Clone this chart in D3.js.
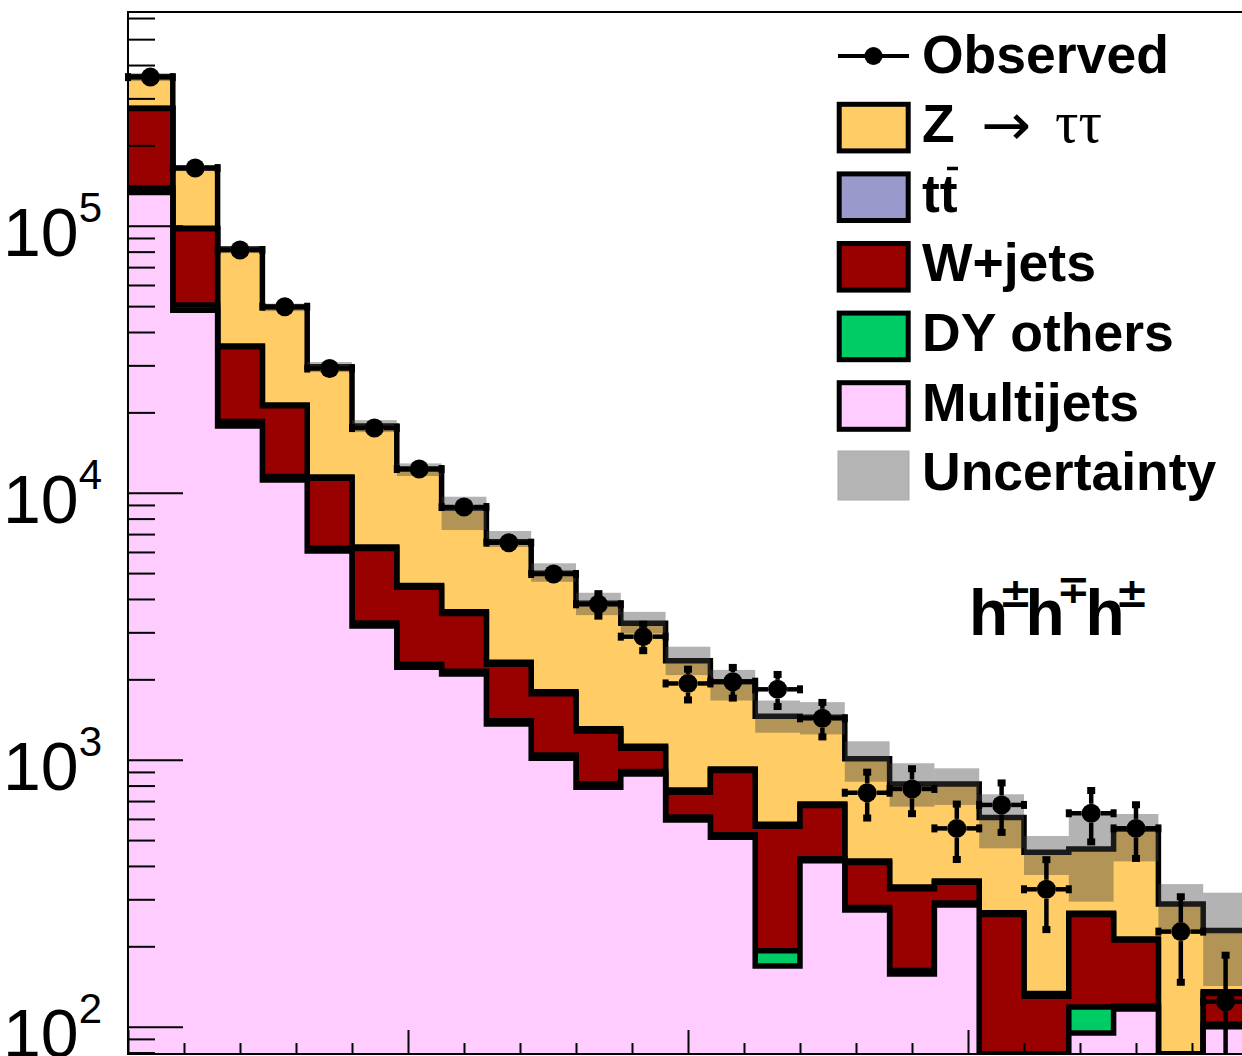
<!DOCTYPE html>
<html><head><meta charset="utf-8">
<script src="https://cdn.jsdelivr.net/npm/d3@7"></script>
<style>html,body{margin:0;padding:0;background:#fff;overflow:hidden}svg{display:block}</style>
</head><body>
<svg id="chart" width="1242" height="1056"></svg>
<script>
// ---------- data ----------
const binLow = [0,4,8,12,16,20,24,28,32,36,40,44,48,52,56,60,64,68,72,76,80,84,88,92,96];
const binWidth = 4;
const multijets = [133100,48300,17770,11160,6050,3170,2220,2094,1360,1012,788,884,595,512,168.8,418,273.6,157.5,285.6,60,55,94.7,116.5,50,100];
const dyOthers  = [5500,2200,700,350,150,80,60,50,40,30,25,20,15,12,23.8,8,6,5,5,3,3,23.8,3,2,2];
const wJets     = [136300,47050,16780,9650,5140,2930,2150,1386,876,725,469,199,145,387,371,248,132,166,57,200,72,144.5,91.5,16,31];
const ttbar     = [400,250,180,140,110,80,60,50,40,30,25,20,15,12,10,8,6,5,4,4,3,3,2,2,2];
const zTauTau   = [86100,66700,46400,28300,18180,11510,7780,5180,4234,3193,2546,2120,1580,1036,881,759,591,477,459,341,317,197,337,218,94];
const observed    = [360400,164500,81100,49740,29190,17470,12270,8840,6500,4960,3820,2890,1930,1960,1835,1429,752,777,553,677,327,630,553,227,124];
const observedErr = [600,410,290,230,170,135,110,95,80,70,385,340,263,266,260,217,150,152,132,145,97,140,128,81,62];
const uncUp   = [373100,168800,83900,51100,30870,18710,12880,9660,7190,5440,4220,3580,2650,2170,1666,1643,1172,970,928.5,742,518,626,626,342,317.6];
const uncDown = [348300,160300,79000,47900,28310,16870,11550,7250,6260,4640,3480,2970,2075,1666,1262,1244,827,667,676.7,465.8,370,294,416,230,142];
const yMajorTicks = [100,1000,10000,100000];
const yMinorTicks = [80,90,200,300,400,500,600,700,800,900,2000,3000,4000,5000,6000,7000,8000,9000,
  20000,30000,40000,50000,60000,70000,80000,90000,200000,300000,400000,500000,600000];
const xTicks = [0,5,10,15,20,25,30,35,40,45,50,55,60,65,70,75,80,85,90,95,100];
const xMajor = [0,25,50,75,100];

const keys = ["multijets","dy","wjets","ttbar","ztt"];
const colors = {ztt:"#ffcc66", ttbar:"#9999cc", wjets:"#990000", dy:"#00cc66", multijets:"#ffccff"};
const legendItems = [
  {key:"ztt", label:"Z"}, {key:"ttbar", label:"tt"}, {key:"wjets", label:"W+jets"},
  {key:"dy", label:"DY others"}, {key:"multijets", label:"Multijets"}
];

// ---------- layout ----------
const L = 128, R = 1248, T = 12, B = 1054;
const svg = d3.select("#chart");
const x = d3.scaleLinear().domain([0,100]).range([L,R]);
const y = d3.scaleLog().domain([79, 6.32e5]).range([B,T]).clamp(true);
const Y = v => y(Math.max(v, 1));

svg.append("defs").append("clipPath").attr("id","plot")
  .append("rect").attr("x",L).attr("y",T).attr("width",R-L).attr("height",B-T);

const table = binLow.map((lo,i)=>({lo, multijets:multijets[i], dy:dyOthers[i], wjets:wJets[i], ttbar:ttbar[i], ztt:zTauTau[i]}));
const series = d3.stack().keys(keys)(table);

const gStack = svg.append("g").attr("clip-path","url(#plot)");
function stepPath(tops, closed){
  let p = "";
  tops.forEach((v,i)=>{
    const x0 = x(binLow[i]), x1 = x(binLow[i]+binWidth);
    if(i===0) p += closed ? `M${x0},${B+10}V${Y(v)}` : `M${x0},${Y(v)}`;
    else p += `V${Y(v)}`;
    p += `H${x1}`;
  });
  if(closed) p += `V${B+10}Z`;
  return p;
}
for(let k = series.length-1; k>=0; k--){
  const s = series[k];
  const tops = s.map(d=>d[1]);
  gStack.append("path").attr("d", stepPath(tops,true)).attr("fill", colors[s.key]).attr("stroke","none");
  gStack.append("path").attr("d", stepPath(tops,false)).attr("fill","none").attr("stroke","#000").attr("stroke-width",5.5);
}
gStack.selectAll("rect.unc").data(binLow).join("rect").attr("class","unc")
  .attr("x",(d)=>x(d)).attr("width",(d)=>x(d+binWidth)-x(d))
  .attr("y",(d,i)=>Y(uncUp[i])).attr("height",(d,i)=>Y(uncDown[i])-Y(uncUp[i]))
  .attr("fill","rgb(66,66,66)").attr("fill-opacity",0.4);

// ---------- axes ----------
const gAx = svg.append("g");
gAx.append("line").attr("x1",L).attr("x2",1242).attr("y1",T).attr("y2",T).attr("stroke","#000").attr("stroke-width",2);
const yAxisMinor = d3.axisRight(y).tickValues(yMinorTicks).tickSize(27).tickFormat("");
const yAxisMajor = d3.axisRight(y).tickValues(yMajorTicks).tickSize(55).tickFormat("");
[yAxisMinor,yAxisMajor].forEach(ax=>{
  const g = gAx.append("g").attr("transform",`translate(${L},0)`).call(ax);
  g.select(".domain").remove();
  g.selectAll("line").attr("stroke","#000").attr("stroke-width",2);
});
gAx.append("line").attr("x1",L).attr("x2",L).attr("y1",T-1).attr("y2",B+1).attr("stroke","#000").attr("stroke-width",2);
const xAxis = d3.axisBottom(x).tickValues(xTicks).tickSizeInner(-11).tickSizeOuter(0).tickFormat("");
const gx = gAx.append("g").attr("transform",`translate(0,${B})`).call(xAxis);
gx.select(".domain").remove();
gx.selectAll(".tick line").attr("stroke","#000").attr("stroke-width",2).attr("y2",d=>xMajor.includes(d)?-24:-11);
gAx.append("line").attr("x1",L).attr("x2",1242).attr("y1",B).attr("y2",B).attr("stroke","#000").attr("stroke-width",2);

yMajorTicks.forEach(v=>{
  const t = svg.append("text").attr("x",3).attr("y",y(v)+30)
    .attr("font-family","'Liberation Sans', Arial, sans-serif").attr("font-size",68).attr("fill","#000");
  t.append("tspan").text("10");
  t.append("tspan").attr("dy",-34).attr("font-size",42).text(String(Math.round(Math.log10(v))));
});

// ---------- observed ----------
const gObs = svg.append("g");
const r = 9.5;
observed.forEach((v,i)=>{
  const lo = binLow[i], cx = x(lo+binWidth/2), cy = Y(v);
  const xl = x(lo), xr = x(lo+binWidth);
  gObs.append("line").attr("x1",xl).attr("x2",cx-r).attr("y1",cy).attr("y2",cy).attr("stroke","#000").attr("stroke-width",4.5);
  gObs.append("line").attr("x1",cx+r).attr("x2",xr).attr("y1",cy).attr("y2",cy).attr("stroke","#000").attr("stroke-width",4.5);
  gObs.append("rect").attr("x",xl-3).attr("y",cy-4).attr("width",6).attr("height",8).attr("fill","#000");
  gObs.append("rect").attr("x",xr-3).attr("y",cy-4).attr("width",6).attr("height",8).attr("fill","#000");
  const yt = Y(v+observedErr[i]), yb = Y(v-observedErr[i]);
  if(cy-yt > r+1){
    gObs.append("line").attr("x1",cx).attr("x2",cx).attr("y1",cy-r).attr("y2",yt).attr("stroke","#000").attr("stroke-width",4.5);
    gObs.append("rect").attr("x",cx-4).attr("y",yt-3).attr("width",8).attr("height",7).attr("fill","#000");
  }
  if(yb-cy > r+1){
    gObs.append("line").attr("x1",cx).attr("x2",cx).attr("y1",cy+r).attr("y2",yb).attr("stroke","#000").attr("stroke-width",4.5);
    if(yb < B-1) gObs.append("rect").attr("x",cx-4).attr("y",yb-4).attr("width",8).attr("height",7).attr("fill","#000");
  }
  gObs.append("circle").attr("cx",cx).attr("cy",cy).attr("r",r).attr("fill","#000");
});

// ---------- legend ----------
const lg = svg.append("g").attr("font-family","'Liberation Sans', Arial, sans-serif").attr("font-weight","bold").attr("font-size",53.5).attr("fill","#000");
lg.append("line").attr("x1",838).attr("x2",909).attr("y1",56).attr("y2",56).attr("stroke","#000").attr("stroke-width",4);
lg.append("circle").attr("cx",873.5).attr("cy",56).attr("r",9).attr("fill","#000");
lg.append("text").attr("x",922).attr("y",72.5).text("Observed");
const rowBase = [142.1,211.7,281.3,350.9,420.5];
legendItems.forEach((it,i)=>{
  const c = rowBase[i]-14.5;
  lg.append("rect").attr("x",839.2).attr("y",c-23.3).attr("width",69).attr("height",46.6)
    .attr("fill",colors[it.key]).attr("stroke","#000").attr("stroke-width",5);
  lg.append("text").attr("x",922).attr("y",rowBase[i]).text(it.label);
});
lg.append("text").attr("x",981).attr("y",145).attr("font-weight","normal").attr("font-family","'DejaVu Sans', sans-serif").attr("font-size",58)
  .attr("textLength",50).attr("lengthAdjust","spacingAndGlyphs").text("\u2192");
lg.append("text").attr("x",1055).attr("y",142.1).attr("font-weight","normal").attr("font-family","'Liberation Serif', 'DejaVu Serif', serif").attr("font-size",60)
  .attr("textLength",47).attr("lengthAdjust","spacingAndGlyphs").text("\u03C4\u03C4");
lg.append("line").attr("x1",947).attr("x2",958).attr("y1",168.5).attr("y2",168.5).attr("stroke","#000").attr("stroke-width",3.5);
lg.append("rect").attr("x",838).attr("y",451).attr("width",71).attr("height",49).attr("fill","#b4b4b4").attr("stroke","#a8a8a8").attr("stroke-width",1);
lg.append("text").attr("x",922).attr("y",490.1).text("Uncertainty");

// ---------- channel label (one text element) ----------
const ch = svg.append("text").attr("fill","#000").attr("font-family","'Liberation Sans', Arial, sans-serif").attr("font-weight","bold").attr("font-size",64);
ch.append("tspan").attr("x",969).attr("y",635).text("h");
ch.append("tspan").attr("x",1015.5).attr("y",607).attr("text-anchor","middle").attr("font-family","'DejaVu Sans', sans-serif").attr("font-size",40).text("\u00B1");
ch.append("tspan").attr("x",1025.5).attr("y",635).attr("text-anchor","start").text("h");
ch.append("tspan").attr("x",1073.5).attr("y",603).attr("text-anchor","middle").attr("font-family","'DejaVu Sans', sans-serif").attr("font-size",40).text("\u2213");
ch.append("tspan").attr("x",1085.5).attr("y",635).attr("text-anchor","start").text("h");
ch.append("tspan").attr("x",1132).attr("y",607).attr("text-anchor","middle").attr("font-family","'DejaVu Sans', sans-serif").attr("font-size",40).text("\u00B1");
</script>
</body></html>
